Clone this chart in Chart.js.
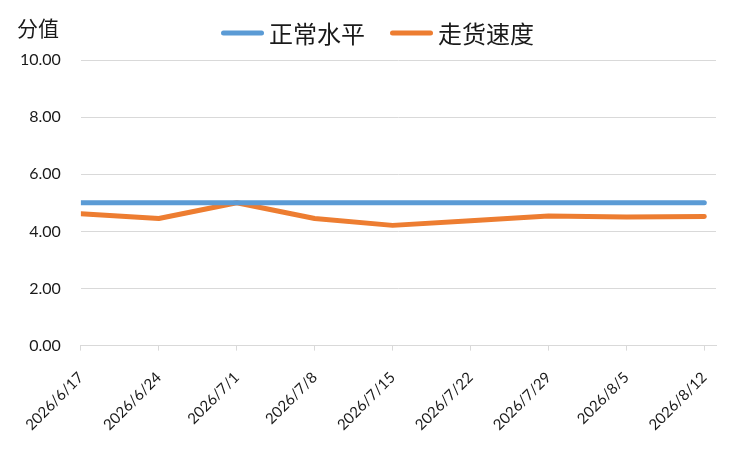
<!DOCTYPE html>
<html><head><meta charset="utf-8">
<script src="https://cdn.jsdelivr.net/npm/chart.js@4"></script>
<style>html,body{margin:0;padding:0;background:#fff;}#wrap{width:750px;height:450px;}</style>
</head><body><div id="wrap"><canvas id="c" width="750" height="450"></canvas></div>
<script>
const categories = ['2026/6/17','2026/6/24','2026/7/1','2026/7/8','2026/7/15','2026/7/22','2026/7/29','2026/8/5','2026/8/12'];
const normalLevel = [5.0,5.0,5.0,5.0,5.0,5.0,5.0,5.0,5.0];
const shippingSpeed = [4.62,4.45,5.0,4.45,4.21,4.37,4.54,4.50,4.52];
const yTicks = [0,2,4,6,8,10];
const seriesNames = ['正常水平','走货速度'];
const yAxisLabel = '分值';

const toPts = arr => arr.map((v,i)=>({x:i,y:v}));
const FONT = "Lato, 'Noto Sans CJK SC', sans-serif";
const CJK = "'Noto Sans CJK SC', sans-serif";

const headerPlugin = {
  id:'header',
  afterDraw(chart){
    const ctx = chart.ctx;
    ctx.save();
    ctx.fillStyle = '#1a1a1a';
    ctx.textBaseline = 'middle';
    ctx.textAlign = 'left';
    ctx.font = "21px " + CJK;
    ctx.fillText(yAxisLabel, 17, 28);
    // legend
    ctx.font = "24px " + CJK;
    const lineW = 43, gap = 5, itemGap = 25, cy = 33;
    const items = chart.data.datasets.map(ds => ({label: ds.label, color: ds.borderColor, w: ctx.measureText(ds.label).width}));
    const total = items.reduce((s,it)=>s + lineW + gap + it.w, 0) + itemGap*(items.length-1);
    let x = 377.5 - total/2;
    items.forEach(it => {
      ctx.strokeStyle = it.color;
      ctx.lineWidth = 5;
      ctx.lineCap = 'round';
      ctx.beginPath();
      ctx.moveTo(x + 2.5, cy);
      ctx.lineTo(x + lineW - 2.5, cy);
      ctx.stroke();
      ctx.fillText(it.label, x + lineW + gap, cy + 1);
      x += lineW + gap + it.w + itemGap;
    });
    ctx.restore();
  }
};

new Chart(document.getElementById('c'), {
  type:'line',
  data:{
    datasets:[
      {label:seriesNames[0], data:toPts(normalLevel), borderColor:'#5B9BD5', backgroundColor:'#5B9BD5', borderWidth:5, pointRadius:0, borderCapStyle:'round', borderJoinStyle:'round', tension:0},
      {label:seriesNames[1], data:toPts(shippingSpeed), borderColor:'#ED7D31', backgroundColor:'#ED7D31', borderWidth:5, pointRadius:0, borderCapStyle:'round', borderJoinStyle:'round', tension:0}
    ]
  },
  options:{
    responsive:false,
    animation:false,
    layout:{padding:{left:0,right:34,top:60,bottom:-2}},
    plugins:{
      legend:{display:false},
      tooltip:{enabled:false}
    },
    scales:{
      x:{
        type:'linear', min:0, max:8.15,
        afterBuildTicks(axis){ axis.ticks = categories.map((c,i)=>({value:i})); },
        afterFit(axis){ axis.paddingLeft = 0; axis.paddingRight = 0; },
        ticks:{
          callback:(v)=>categories[v],
          minRotation:45, maxRotation:45, autoSkip:false,
          font:{family:FONT,size:15}, color:'#1a1a1a', padding:18
        },
        grid:{drawOnChartArea:false, drawTicks:true, tickLength:5, color:'#d9d9d9'},
        border:{display:true, color:'#d9d9d9', width:1}
      },
      y:{
        min:0, max:10,
        afterBuildTicks(axis){ axis.ticks = yTicks.map(v=>({value:v})); },
        ticks:{callback:v=>Number(v).toFixed(2), font:{family:FONT,size:16}, color:'#1a1a1a', padding:20},
        grid:{color:'#d9d9d9', drawTicks:false},
        border:{display:false}
      }
    }
  },
  plugins:[headerPlugin]
});
</script></body></html>
